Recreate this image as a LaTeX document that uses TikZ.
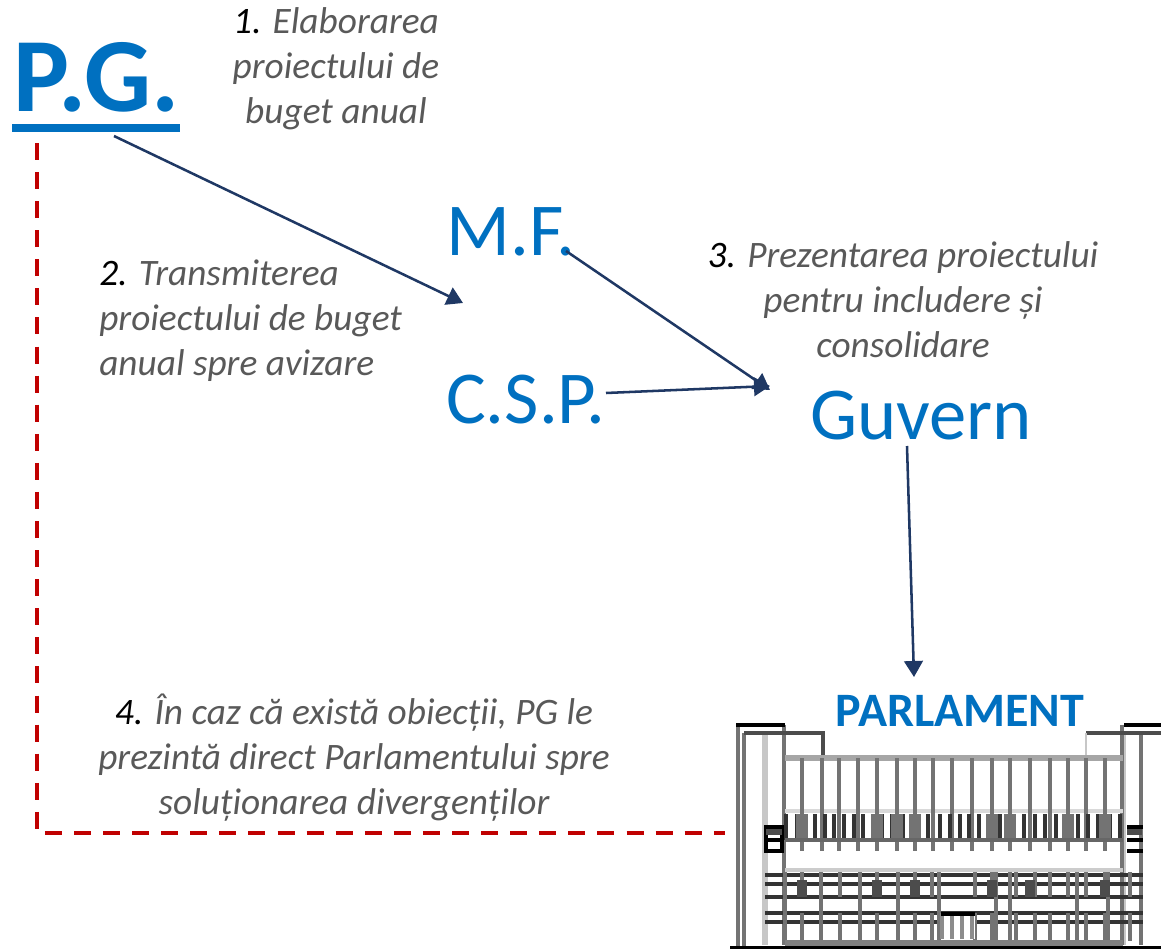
\documentclass[tikz,border=0pt]{standalone}
\usepackage{fontspec}
\setmainfont{Carlito}
\definecolor{pgblue}{HTML}{0070C0}
\definecolor{navy}{HTML}{1F3864}
\definecolor{redd}{HTML}{C00000}
\definecolor{txtgray}{HTML}{595959}
\usetikzlibrary{arrows.meta}
\tikzset{
 big/.style={text=pgblue,inner sep=0pt,font=\fontsize{56}{60}\selectfont},
 note/.style={text=txtgray,inner sep=0pt,font=\fontsize{28}{33.75}\selectfont\itshape},
 arrowline/.style={draw=navy,line width=1.9pt,-{Triangle[length=12pt,width=14pt]}},
 redline/.style={draw=redd,line width=3pt,dash pattern=on 12.75pt off 9.06pt},
 gr/.style={draw=black!55,line width=2.6pt},
 lg/.style={draw=black!22,line width=3pt},
 dk/.style={draw=black!80,line width=2.4pt},
 bk/.style={draw=black,line width=2.6pt}
}
\newcommand{\nb}[1]{{\color{black}#1}}
\begin{document}
\begin{tikzpicture}[x=0.75pt,y=-0.75pt]
\useasboundingbox (0,0) rectangle (1161,949);
% building
\begin{scope}
\clip (0,0) rectangle (1161,949);
\foreach \x in {765,1123}{\draw[lg,line width=4pt] (\x,735) -- (\x,945);}
\draw[gr] (738,725) -- (738,949);
\draw[gr] (744,733) -- (744,949);
\draw[gr] (784,725) -- (784,945);
\draw[gr] (1122,725) -- (1122,945);
\draw[gr] (1141,733) -- (1141,945);
\draw[bk,line width=3pt] (736,725) -- (785,725);
\draw[bk,line width=3pt] (1124,725) -- (1161,725);
\draw[dk,draw=black!70] (744,733) -- (823,733) -- (823,757);
\draw[dk,draw=black!70] (1086,733) -- (1161,733);
\draw[lg,line width=2pt] (1086,733) -- (1086,757);
\draw[draw=black!35,line width=5pt] (785,758) -- (1123,758);
\draw[draw=black!15,line width=3pt] (785,811) -- (1123,811);
% columns
\foreach \x in {802,822,839,858,877,897,915,933,952,972,992,1010,1030,1050,1068,1086,1105}{
  \draw[gr] (\x,758) -- (\x,851);
}
% frieze band
\foreach \x in {786,797,815,825,834,844,854,863,873,882,892,903,913,928,940,950,960,969,979,990,1000,1014,1024,1035,1045,1056,1067,1078,1088,1098,1110,1120}{
  \draw[dk,line width=3pt] (\x,814) -- (\x,840);
}
\foreach \x in {802,877,897,915,992,1010,1068,1105}{
  \draw[draw=black!55,line width=8.5pt] (\x,814) -- (\x,842);
}
\draw[gr,draw=black!60] (785,840) -- (1123,840);
% side windows
\draw[bk] (766,827) -- (782,827) -- (782,851) -- (766,851) -- cycle;
\draw[draw=black!70,line width=4pt] (766,832) -- (782,832);
\draw[bk] (766,840) -- (782,840);
\draw[bk] (1143,827) -- (1127,827);
\draw[bk] (1143,851) -- (1127,851);
\draw[draw=black!70,line width=4pt] (1127,832) -- (1142,832);
\draw[bk] (1127,840) -- (1143,840);
\draw[draw=black!20,line width=3pt] (785,870) -- (1123,870);
% lower block
\foreach \y in {875,884,897,913,922}{\draw[dk] (765,\y) -- (1143,\y);}
\foreach \x in {785,821,860,898,939,996,1010,1077,1108}{\draw[gr] (\x,872) -- (\x,943);}
\foreach \x in {802,840,877,915,932,975,992,1016,1035,1050,1068,1086,1105,1130}{
  \draw[gr] (\x,872) -- (\x,897);
  \draw[gr] (\x,913) -- (\x,941);
}
\foreach \x in {802,877,915,992,1030,1105}{\fill[black!70] (\x-5,880) rectangle (\x+5,897);}
\fill[white] (941,912) rectangle (975,939);
\foreach \x in {942,952,962,972}{\draw[draw=black!45,line width=3pt] (\x,913) -- (\x,939);}
\draw[bk,line width=3pt] (941,914) -- (975,914);
\draw[draw=black!50,line width=4pt] (785,943) -- (1123,943);
\draw[bk] (730,948) -- (1161,948);
\end{scope}
% nodes
\node[big,font=\fontsize{79}{80}\selectfont\bfseries,anchor=base] (pg) at (97,112) {P.G.};
\fill[pgblue] (12,124) rectangle (180,132);
\node[big,anchor=base] (mf) at (511,255) {M.F.};
\node[big,anchor=base] (csp) at (526,423) {C.S.P.};
\node[big,anchor=base] (guv) at (921,439) {Guvern};
\node[text=pgblue,inner sep=0pt,font=\fontsize{36}{38}\selectfont\bfseries,anchor=base] (parl) at (960,726) {PARLAMENT};
\node[note,align=center,anchor=base] (n1) at (336,123) {\nb{1.} Elaborarea\\proiectului de\\buget anual};
\node[note,align=left,anchor=base west] (n2) at (99,375) {\nb{2.} Transmiterea\\proiectului de buget\\anual spre avizare};
\node[note,align=center,anchor=base] (n3) at (903,357) {\nb{3.} Prezentarea proiectului\\pentru includere și\\consolidare};
\node[note,align=center,anchor=base] (n4) at (354,814) {\nb{4.} În caz că există obiecții, PG le\\prezintă direct Parlamentului spre\\soluționarea divergenților};
% connector ends
\coordinate (pgs) at (114,136);
\coordinate (pge) at (463,303);
\coordinate (mfs) at (566,251);
\coordinate (gve) at (770,390);
\coordinate (csps) at (606,393);
\coordinate (gve2) at (770,386);
\coordinate (gvs) at (907,446);
\coordinate (pae) at (914,677);
\coordinate (rs) at (37,143);
\coordinate (rc) at (37,833);
\coordinate (re) at (725,833);
\draw[arrowline] (pgs) -- (pge);
\draw[arrowline] (mfs) -- (gve);
\draw[arrowline] (csps) -- (gve2);
\draw[arrowline] (gvs) -- (pae);
\draw[redline] (rs) -- (rc) -- (re);
\end{tikzpicture}
\end{document}
